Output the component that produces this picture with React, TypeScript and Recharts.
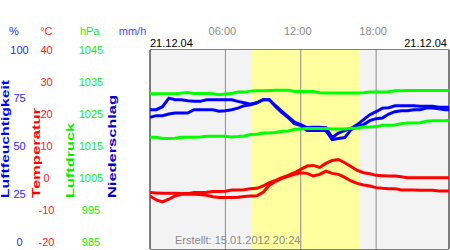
import React from 'react';
import { LineChart, Line, XAxis, YAxis, CartesianGrid, ReferenceArea, ReferenceLine } from 'recharts';

// ---- data ----
const HOURS = [0, 0.5, 1, 1.5, 2, 2.5, 3, 3.5, 4, 4.5, 5, 5.5, 6, 6.5, 7, 7.5, 8, 8.5, 9, 9.5, 10, 10.5, 11, 11.5, 12, 12.5, 13, 13.5, 14, 14.5, 15, 15.5, 16, 16.5, 17, 17.5, 18, 18.5, 19, 19.5, 20, 20.5, 21, 21.5, 22, 22.5, 23, 23.5, 24];

const HUMIDITY_A = [70, 70, 71.5, 75.8, 75, 75, 74.5, 74.2, 74.2, 75, 75, 75, 75, 75, 74.2, 73.5, 72.8, 73.5, 75, 75, 72, 69.2, 66.5, 63.7, 62.5, 61, 61.2, 61.2, 61, 56, 58.3, 59.5, 60.5, 62.5, 65, 67.5, 69, 70.8, 71, 72, 72, 72, 72, 71.7, 71.7, 71.7, 71.2, 71.2, 71.2];
const HUMIDITY_B = [66.2, 67, 67, 67.8, 68.3, 68.3, 68.3, 70, 70, 70, 70, 69.2, 69.5, 70, 70.8, 72, 72.5, 73.5, 75, 75, 71.5, 68.5, 66, 63, 62, 59.5, 59.5, 59.5, 59.5, 55, 55.5, 56, 60, 61.7, 62.5, 64.5, 65.5, 65.8, 67.8, 69, 69.5, 69.5, 70, 70, 70.8, 70.8, 70.5, 70, 70];

const PRESSURE_A = [1031.8, 1031.8, 1031.8, 1031.8, 1031.8, 1032.0, 1032.2, 1031.9, 1031.9, 1031.9, 1031.8, 1031.5, 1031.7, 1031.9, 1032.3, 1032.3, 1032.6, 1032.7, 1032.7, 1032.8, 1032.9, 1032.9, 1032.9, 1032.5, 1032.5, 1032.5, 1032.5, 1032.1, 1032.0, 1032.0, 1032.0, 1032.0, 1032.0, 1032.0, 1032.1, 1032.3, 1032.3, 1032.3, 1032.4, 1032.7, 1032.7, 1032.8, 1032.8, 1032.8, 1032.8, 1032.8, 1032.8, 1032.8, 1032.8];
const PRESSURE_B = [1018.7, 1018.7, 1018.3, 1018.3, 1018.4, 1018.7, 1018.7, 1018.7, 1018.8, 1019.0, 1019.0, 1019.0, 1019.0, 1018.8, 1018.9, 1019.1, 1019.5, 1019.6, 1020.0, 1020.0, 1020.1, 1020.5, 1020.6, 1021.1, 1021.2, 1021.3, 1021.3, 1021.3, 1021.3, 1021.2, 1021.2, 1021.2, 1021.4, 1021.5, 1021.8, 1021.8, 1021.9, 1022.3, 1022.3, 1022.4, 1022.8, 1023.0, 1023.0, 1023.1, 1023.5, 1023.7, 1023.7, 1023.7, 1023.8];

const TEMPERATURE_A = [-3.0, -3.1, -3.2, -3.2, -3.2, -3.3, -3.3, -3.0, -3.0, -2.9, -2.7, -2.7, -2.6, -2.2, -2.2, -2.1, -1.8, -1.7, -1.0, 0.0, 0.7, 1.5, 2.2, 3.0, 4.0, 5.0, 5.2, 4.6, 5.8, 6.7, 7.0, 6.0, 4.9, 3.7, 3.0, 2.7, 2.2, 2.1, 2.0, 2.0, 1.8, 1.5, 1.5, 1.5, 1.5, 1.5, 1.5, 1.5, 1.5];
const TEMPERATURE_B = [-4.0, -5.2, -5.8, -5.0, -4.0, -3.5, -3.4, -3.5, -3.6, -3.8, -4.25, -4.5, -4.5, -4.5, -4.4, -4.2, -4.0, -3.95, -2.9, -0.8, 0.4, 1.3, 1.9, 2.5, 3.0, 2.8, 2.0, 2.5, 3.5, 2.8, 2.5, 1.6, 0.5, -0.2, -0.7, -1.0, -1.5, -1.7, -1.8, -1.8, -2.2, -2.2, -2.2, -2.3, -2.3, -2.3, -2.5, -2.5, -2.5];

const HUMIDITY_TICKS = [0, 25, 50, 75, 100];
const TEMPERATURE_TICKS = [-20, -10, 0, 10, 20, 30, 40];
const PRESSURE_TICKS = [985, 995, 1005, 1015, 1025, 1035, 1045];
const RAIN_TICKS = [0, 4, 8, 12, 16, 20, 24];
const TIME_TICKS = [6, 12, 18];
const TIME_LABELS: Record<number, string> = { 6: '06:00', 12: '12:00', 18: '18:00' };
const SUNRISE = 8.1;
const SUNSET = 16.65;
const X_MIN = 0;
const X_MAX = 23.8;
const DATE_LABEL = '21.12.04';
const CREATED_LABEL = 'Erstellt: 15.01.2012 20:24';

const data = HOURS.map((h, i) => ({
  h,
  humA: HUMIDITY_A[i],
  humB: HUMIDITY_B[i],
  presA: PRESSURE_A[i],
  presB: PRESSURE_B[i],
  tempA: TEMPERATURE_A[i],
  tempB: TEMPERATURE_B[i],
}));

// ---- styles ----
const FONT = "'Liberation Sans', Arial, Helvetica, sans-serif";
const PLOT_TOP = 50;
const LABEL_SQUEEZE = 0.967;

// axis ids: sorted order puts the first id closest to the plot
const AX_RAIN = 'a_rain';
const AX_PRES = 'b_pres';
const AX_TEMP = 'c_temp';
const AX_HUM = 'd_hum';

function makeTick(color: string, offset: number) {
  return (props: any) => {
    const { x, y, payload } = props;
    const yy = PLOT_TOP + (y - PLOT_TOP) * LABEL_SQUEEZE;
    return (
      <text x={x - offset} y={yy} dy="0.355em" textAnchor="middle" fill={color} fontSize={11} fontFamily={FONT}>
        {payload.value}
      </text>
    );
  };
}

function makeAxisLabel(unit: string, unitColor: string, unitOffset: number, title: string, titleColor: string, titleOffset: number, titleLen: number) {
  return (props: any) => {
    const vb = props.viewBox || {};
    const right = vb.x + vb.width;
    const ux = right - unitOffset;
    const tx = right - titleOffset;
    const ty = vb.y + 148;
    return (
      <g>
        <text x={ux} y={vb.y - 19.3} dy="0.355em" textAnchor="middle" fill={unitColor} fontSize={11} fontFamily={FONT}>
          {unit}
        </text>
        <text
          x={tx}
          y={ty}
          transform={`rotate(-90 ${tx} ${ty})`}
          fill={titleColor}
          fontSize={11}
          fontWeight="bold"
          fontFamily={FONT}
          textLength={titleLen}
          lengthAdjust="spacingAndGlyphs"
        >
          {title}
        </text>
      </g>
    );
  };
}

const TimeTick = (props: any) => {
  const { x, y, payload } = props;
  return (
    <text x={x - 3} y={y - 19.3} dy="0.355em" textAnchor="middle" fill="#8a8a8a" fontSize={11} fontFamily={FONT}>
      {TIME_LABELS[payload.value]}
    </text>
  );
};

const DateLabels = (props: any) => {
  const vb = props.viewBox || {};
  return (
    <g>
      <text x={vb.x} y={vb.y + 23} dy="0.355em" textAnchor="start" fill="#000" fontSize={11} fontFamily={FONT}>
        {DATE_LABEL}
      </text>
      <text x={vb.x + vb.width - 2} y={vb.y + 23} dy="0.355em" textAnchor="end" fill="#000" fontSize={11} fontFamily={FONT}>
        {DATE_LABEL}
      </text>
    </g>
  );
};

const CreatedLabel = (props: any) => {
  const vb = props.viewBox || {};
  return (
    <text x={vb.x + 25} y={vb.y + vb.height - 8.7} dy="0.355em" textAnchor="start" fill="#8a8a8a" fontSize={11} fontFamily={FONT}>
      {CREATED_LABEL}
    </text>
  );
};

export default function App() {
  return (
    <div style={{ position: 'absolute', left: 0, top: 0, width: 450, height: 250, background: '#fff' }}>
      <LineChart width={450} height={250} data={data} margin={{ top: 20, right: 1, bottom: 1, left: 0 }}>
        <XAxis
          dataKey="h"
          type="number"
          orientation="top"
          domain={[X_MIN, X_MAX]}
          allowDataOverflow
          ticks={TIME_TICKS}
          height={30}
          axisLine={false}
          tickLine={false}
          tickSize={0}
          tickMargin={0}
          tick={TimeTick}
          interval={0}
          label={DateLabels}
        />
        <YAxis
          yAxisId={AX_RAIN}
          domain={[0, 24]}
          ticks={RAIN_TICKS}
          width={42}
          axisLine={false}
          tickLine={false}
          tickSize={0}
          tickMargin={0}
          interval={0}
          tick={makeTick('#2020cc', 26)}
          label={makeAxisLabel('mm/h', '#4848ff', 17.5, 'Niederschlag', '#0000cc', 34, 103)}
        />
        <YAxis
          yAxisId={AX_PRES}
          domain={[985, 1045]}
          ticks={PRESSURE_TICKS}
          width={48}
          axisLine={false}
          tickLine={false}
          tickSize={0}
          tickMargin={0}
          interval={0}
          tick={makeTick('#10f010', 17)}
          label={makeAxisLabel('hPa', '#10f010', 18.3, 'Luftdruck', '#00ee00', 34, 75)}
        />
        <YAxis
          yAxisId={AX_TEMP}
          domain={[-20, 40]}
          ticks={TEMPERATURE_TICKS}
          width={27}
          axisLine={false}
          tickLine={false}
          tickSize={0}
          tickMargin={0}
          interval={0}
          tick={makeTick('#ff2020', 13.5)}
          label={makeAxisLabel('°C', '#ff2020', 13.7, 'Temperatur', '#ff0000', 20.5, 90)}
        />
        <YAxis
          yAxisId={AX_HUM}
          domain={[0, 100]}
          ticks={HUMIDITY_TICKS}
          width={33}
          axisLine={false}
          tickLine={false}
          tickSize={0}
          tickMargin={0}
          interval={0}
          tick={makeTick('#2828ff', 13.5)}
          label={makeAxisLabel('%', '#2828ff', 19, 'Luftfeuchtigkeit', '#0000ff', 24, 118)}
        />

        <ReferenceArea yAxisId={AX_TEMP} x1={X_MIN} x2={X_MAX} fill="#f3f3f3" fillOpacity={1} stroke="none" />
        <ReferenceArea yAxisId={AX_TEMP} x1={SUNRISE} x2={SUNSET} fill="#ffffa0" fillOpacity={1} stroke="none" />
        <CartesianGrid yAxisId={AX_TEMP} vertical={false} stroke="#000" strokeWidth={1} fill="none" />
        {TIME_TICKS.map((t) => (
          <ReferenceLine key={t} yAxisId={AX_TEMP} x={t} stroke="#8a8a8a" strokeWidth={1} />
        ))}
        <ReferenceLine yAxisId={AX_TEMP} x={X_MIN} stroke="#000" strokeWidth={1} label={CreatedLabel} />
        <ReferenceLine yAxisId={AX_TEMP} x={X_MAX} stroke="#000" strokeWidth={1} />

        <Line yAxisId={AX_TEMP} dataKey="tempA" type="linear" stroke="#ff0000" strokeWidth={3} dot={false} isAnimationActive={false} />
        <Line yAxisId={AX_TEMP} dataKey="tempB" type="linear" stroke="#ff0000" strokeWidth={3} dot={false} isAnimationActive={false} />
        <Line yAxisId={AX_HUM} dataKey="humA" type="linear" stroke="#0000ff" strokeWidth={3} dot={false} isAnimationActive={false} />
        <Line yAxisId={AX_HUM} dataKey="humB" type="linear" stroke="#0000ff" strokeWidth={3} dot={false} isAnimationActive={false} />
        <Line yAxisId={AX_PRES} dataKey="presA" type="linear" stroke="#00ff00" strokeWidth={3} dot={false} isAnimationActive={false} />
        <Line yAxisId={AX_PRES} dataKey="presB" type="linear" stroke="#00ff00" strokeWidth={3} dot={false} isAnimationActive={false} />
      </LineChart>
    </div>
  );
}
